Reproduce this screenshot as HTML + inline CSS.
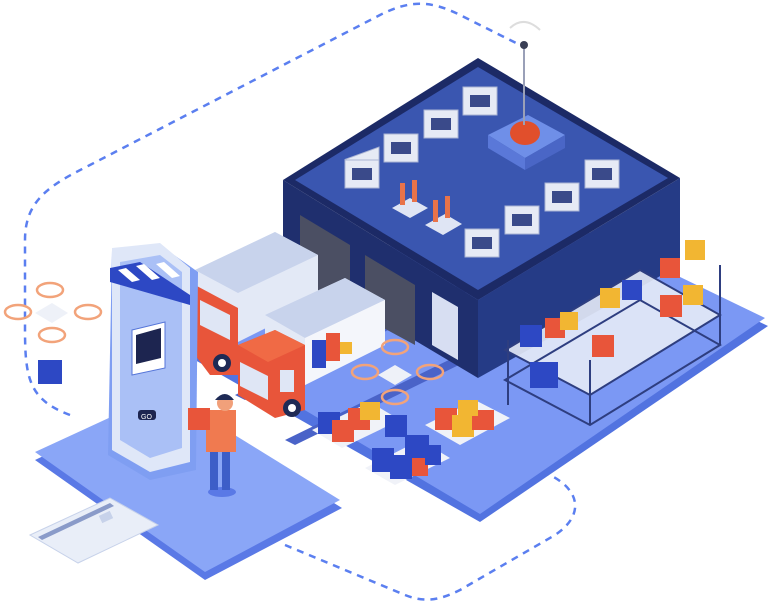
<!DOCTYPE html>
<html><head><meta charset="utf-8"><style>html,body{margin:0;padding:0;background:#fff}svg{display:block}</style></head><body>
<svg width="769" height="603" viewBox="0 0 769 603" xmlns="http://www.w3.org/2000/svg">
<!-- dashed path -->
<path d="M70,415 C30,400 25,380 25,330 L25,240 C25,200 50,185 90,165 L380,15 C410,0 430,0 460,15 L520,45" fill="none" stroke="#5b7ff0" stroke-width="2.5" stroke-dasharray="7,6"/>
<path d="M285,545 L405,595 C425,603 440,600 460,590 L555,535 C585,515 580,490 550,475 L520,462" fill="none" stroke="#5b7ff0" stroke-width="2.5" stroke-dasharray="7,6"/>
<!-- main platform -->
<polygon points="195,352 500,196 768,326 480,522 195,360" fill="#5273e0"/>
<polygon points="195,345 500,190 765,318 480,514" fill="#7b98f4"/>
<!-- lanes -->
<polygon points="235,395 470,280 480,285 245,400" fill="#4a63c8"/>
<polygon points="285,440 500,335 510,340 295,445" fill="#4a63c8"/>
<!-- lower left platform -->
<polygon points="35,460 165,398 342,508 205,580" fill="#5a79e6"/>
<polygon points="35,452 165,392 340,500 205,572" fill="#8aa6f7"/>
<!-- card -->
<polygon points="30,535 110,498 158,525 78,563" fill="#e9eef8" stroke="#c7d2ea"/>
<polygon points="38,537 110,503 114,506 42,540" fill="#8a9bc9"/>
<rect x="100" y="513" width="12" height="8" fill="#c7d2ea" transform="rotate(-25 106 517)"/>
<!-- building walls -->
<polygon points="283,180 478,300 478,378 283,262" fill="#1f2f6e"/>
<polygon points="478,300 680,178 680,265 478,378" fill="#253b86"/>
<!-- doors -->
<polygon points="300,215 350,245 350,310 300,282" fill="#4b4f63"/>
<polygon points="365,255 415,285 415,345 365,318" fill="#4b4f63"/>
<polygon points="432,292 458,307 458,360 432,345" fill="#d7def2"/>
<!-- roof -->
<polygon points="283,180 478,58 680,178 478,300" fill="#1c2a66"/>
<polygon points="295,180 478,67 668,178 478,290" fill="#3a56b0"/>
<polygon points="488,135 528,115 565,135 525,158" fill="#6f8fe8"/>
<polygon points="488,135 525,158 525,170 488,148" fill="#5a78d8"/>
<polygon points="525,158 565,135 565,148 525,170" fill="#4a66c6"/>
<ellipse cx="525" cy="133" rx="15" ry="12" fill="#e14f2c"/>
<line x1="524" y1="45" x2="524" y2="125" stroke="#9aa0b8" stroke-width="2"/>
<circle cx="524" cy="45" r="4" fill="#3a3f55"/>
<path d="M510,28 Q524,15 540,30" fill="none" stroke="#ddd" stroke-width="2"/>
<g fill="#e6eaf5" stroke="#aab4d4">
<rect x="345" y="160" width="34" height="28" transform="skewY(-20) translate(0,125)"/>
<rect x="384" y="134" width="34" height="28"/>
<rect x="424" y="110" width="34" height="28"/>
<rect x="463" y="87" width="34" height="28"/>
<rect x="585" y="160" width="34" height="28"/>
<rect x="545" y="183" width="34" height="28"/>
<rect x="505" y="206" width="34" height="28"/>
<rect x="465" y="229" width="34" height="28"/>
<rect x="345" y="160" width="34" height="28"/>
</g>
<g fill="#3a4a8a"><rect x="352" y="168" width="20" height="12"/><rect x="391" y="142" width="20" height="12"/><rect x="431" y="118" width="20" height="12"/><rect x="470" y="95" width="20" height="12"/><rect x="592" y="168" width="20" height="12"/><rect x="552" y="191" width="20" height="12"/><rect x="512" y="214" width="20" height="12"/><rect x="472" y="237" width="20" height="12"/></g>
<polygon points="392,208 410,198 428,208 410,218" fill="#dfe5f4"/>
<rect x="400" y="183" width="5" height="22" fill="#e8734a"/><rect x="412" y="180" width="5" height="22" fill="#e8734a"/>
<polygon points="425,225 445,214 462,224 443,235" fill="#dfe5f4"/>
<rect x="433" y="200" width="5" height="22" fill="#e8734a"/><rect x="445" y="196" width="5" height="22" fill="#e8734a"/>
<!-- shelves -->
<polygon points="505,350 640,270 720,315 590,395" fill="#e6ebf7" opacity=".9"/>
<polygon points="505,380 640,300 720,345 590,425" fill="none" stroke="#2e3e80" stroke-width="2"/>
<polygon points="505,350 640,270 720,315 590,395" fill="none" stroke="#2e3e80" stroke-width="2"/>
<line x1="508" y1="340" x2="508" y2="405" stroke="#2e3e80" stroke-width="2"/>
<line x1="590" y1="360" x2="590" y2="425" stroke="#2e3e80" stroke-width="2"/>
<line x1="720" y1="265" x2="720" y2="345" stroke="#2e3e80" stroke-width="2"/>
<g>
<rect x="520" y="325" width="22" height="22" fill="#2d48c4"/><rect x="545" y="318" width="20" height="20" fill="#e8553a"/><rect x="560" y="312" width="18" height="18" fill="#f2b632"/>
<rect x="600" y="288" width="20" height="20" fill="#f2b632"/><rect x="622" y="280" width="20" height="20" fill="#2d48c4"/>
<rect x="660" y="258" width="20" height="20" fill="#e8553a"/><rect x="685" y="240" width="20" height="20" fill="#f2b632"/>
<rect x="660" y="295" width="22" height="22" fill="#e8553a"/><rect x="683" y="285" width="20" height="20" fill="#f2b632"/>
<rect x="530" y="362" width="28" height="26" fill="#2d48c4"/><rect x="592" y="335" width="22" height="22" fill="#e8553a"/>
</g>
<!-- truck 1 -->
<polygon points="195,270 275,232 318,255 318,302 238,342 195,318" fill="#e3e9f6"/>
<polygon points="195,270 275,232 318,255 238,293" fill="#c8d3ec"/>
<polygon points="195,285 238,308 238,375 210,375 195,355" fill="#e8553a"/>
<polygon points="200,300 230,315 230,340 200,325" fill="#dfe6f5"/>
<circle cx="222" cy="363" r="9" fill="#1e2a55"/><circle cx="222" cy="363" r="4" fill="#fff"/>
<!-- truck 2 -->
<polygon points="265,315 345,278 385,300 385,345 305,385 265,362" fill="#e3e9f6"/>
<polygon points="265,315 345,278 385,300 305,338" fill="#c8d3ec"/>
<polygon points="305,338 385,300 385,345 305,385" fill="#f4f6fb"/>
<rect x="312" y="340" width="14" height="14" fill="#2d48c4"/><rect x="326" y="333" width="14" height="14" fill="#e8553a"/><rect x="312" y="354" width="14" height="14" fill="#2d48c4"/><rect x="326" y="347" width="14" height="14" fill="#e8553a"/><rect x="340" y="342" width="12" height="12" fill="#f2b632"/>
<polygon points="238,345 275,330 305,345 305,410 275,418 238,395" fill="#e8553a"/>
<polygon points="238,345 275,330 305,345 268,362" fill="#f06a45"/>
<polygon points="240,362 268,376 268,400 240,386" fill="#dfe6f5"/>
<rect x="280" y="370" width="14" height="22" fill="#dfe6f5"/>
<circle cx="292" cy="408" r="9" fill="#1e2a55"/><circle cx="292" cy="408" r="4" fill="#fff"/>
<!-- pallets -->
<polygon points="312,430 370,402 400,420 342,448" fill="#f0f2f8"/>
<rect x="318" y="412" width="22" height="22" fill="#2d48c4"/><rect x="332" y="420" width="22" height="22" fill="#e8553a"/><rect x="348" y="408" width="22" height="22" fill="#e8553a"/><rect x="360" y="402" width="20" height="18" fill="#f2b632"/><rect x="385" y="415" width="22" height="22" fill="#2d48c4"/>
<polygon points="425,425 475,400 510,418 460,445" fill="#f0f2f8"/>
<rect x="435" y="408" width="22" height="22" fill="#e8553a"/><rect x="452" y="415" width="22" height="22" fill="#f2b632"/><rect x="472" y="410" width="22" height="20" fill="#e8553a"/><rect x="458" y="400" width="20" height="16" fill="#f2b632"/>
<polygon points="365,468 420,440 450,458 395,485" fill="#f0f2f8"/>
<rect x="372" y="448" width="22" height="24" fill="#2d48c4"/><rect x="390" y="455" width="22" height="24" fill="#2d48c4"/><rect x="405" y="435" width="24" height="24" fill="#2d48c4"/><rect x="412" y="458" width="16" height="18" fill="#e8553a"/><rect x="425" y="445" width="16" height="20" fill="#2d48c4"/>
<!-- drone center -->
<g fill="none" stroke="#f2a37a" stroke-width="2.5">
<ellipse cx="395" cy="347" rx="13" ry="7"/><ellipse cx="365" cy="372" rx="13" ry="7"/><ellipse cx="430" cy="372" rx="13" ry="7"/><ellipse cx="395" cy="397" rx="13" ry="7"/>
</g>
<polygon points="378,375 395,365 412,375 395,385" fill="#eef1f8"/>
<!-- phone -->
<polygon points="112,250 160,245 198,272 196,470 150,480 108,455" fill="#7f9ef2"/>
<polygon points="112,248 160,243 190,268 190,462 150,472 112,450" fill="#dfe7f8"/>
<polygon points="120,262 160,255 182,272 182,448 150,458 120,440" fill="#aac0f6"/>
<polygon points="132,330 165,322 165,368 132,375" fill="#fff" stroke="#5575d8"/>
<polygon points="136,335 161,328 161,358 136,364" fill="#1d2550"/>
<rect x="138" y="410" width="18" height="10" rx="3" fill="#1d2550"/>
<text x="141" y="419" font-family="Liberation Sans" font-size="7" fill="#fff">GO</text>
<polygon points="110,268 140,262 190,295 190,305 110,282" fill="#2d48c4"/>
<g fill="#fff"><polygon points="118,270 126,268 140,280 132,282"/><polygon points="136,266 144,264 160,278 152,280"/><polygon points="156,264 164,262 180,276 172,278"/></g>
<!-- person -->
<ellipse cx="222" cy="492" rx="14" ry="5" fill="#5a79e6"/>
<rect x="210" y="445" width="8" height="45" fill="#3d5ec8"/><rect x="222" y="445" width="8" height="45" fill="#3d5ec8"/>
<rect x="206" y="410" width="30" height="42" fill="#f07a50"/>
<circle cx="225" cy="403" r="8" fill="#f1a07a"/>
<path d="M215,400 Q225,388 234,400 Z" fill="#1e2a55"/>
<rect x="188" y="408" width="22" height="22" fill="#e8553a"/>
<!-- left drone -->
<g fill="none" stroke="#f2a37a" stroke-width="2.5">
<ellipse cx="50" cy="290" rx="13" ry="7"/><ellipse cx="18" cy="312" rx="13" ry="7"/><ellipse cx="88" cy="312" rx="13" ry="7"/><ellipse cx="52" cy="335" rx="13" ry="7"/>
</g>
<polygon points="35,313 52,303 68,313 52,323" fill="#eef1f8"/>
<rect x="38" y="360" width="24" height="24" fill="#2d48c4"/>
</svg>
</body></html>
